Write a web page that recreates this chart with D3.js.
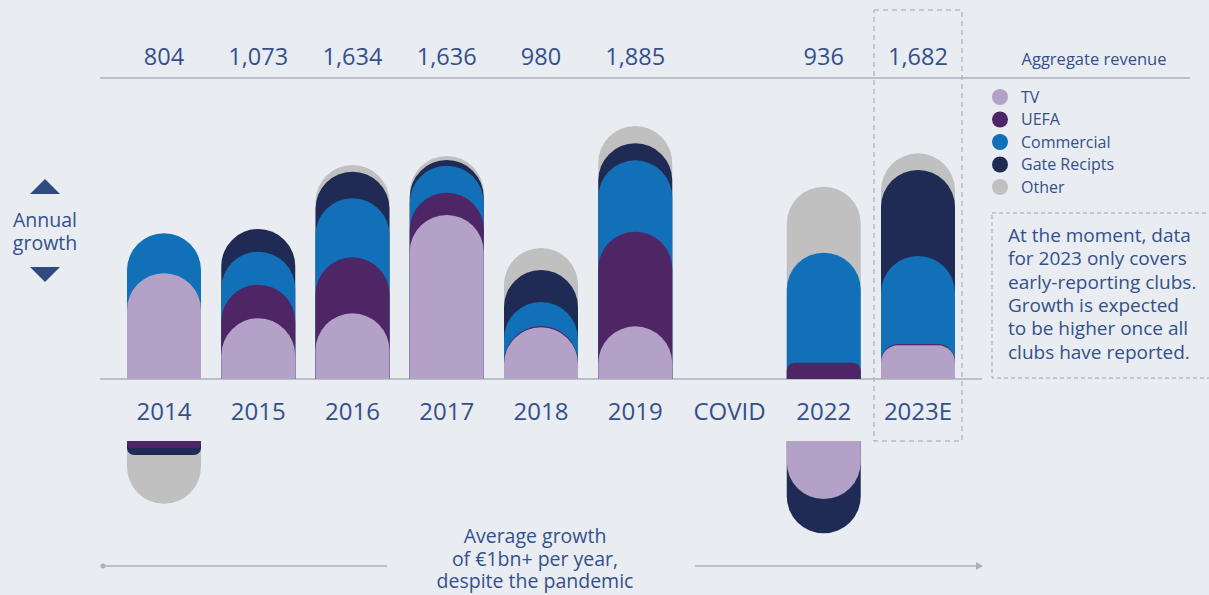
<!DOCTYPE html>
<html>
<head>
<meta charset="utf-8">
<script src="https://cdn.jsdelivr.net/npm/d3@7"></script>
<style>
  body { margin: 0; background: #e9edf1; }
  svg { display: block; font-family: "Open Sans", sans-serif; }
  .txt { fill: #34508c; }
</style>
</head>
<body>
<div id="okvir"></div>
<script>
// values, in €m
const godine = ["2014", "2015", "2016", "2017", "2018", "2019", "COVID", "2022", "2023E"]
const ukupno = [804, 1073, 1634, 1636, 980, 1885, null, 936, 1682]
const tv = [789, 453, 490, 1224, 386, 393, 0, -433, 251]
const uefa = [-52, 251, 418, 166, 10, 706, 0, 122, 10]
const commercial = [299, 246, 441, 202, 179, 533, 0, 820, 657]
const gate = [-52, 169, 198, 42, 238, 127, 0, -256, 642]
const other = [-365, 0, 50, 30, 165, 129, 0, 493, 124]

const serije = ["TV", "UEFA", "Commercial", "Gate Recipts", "Other"]
const boje = ["#b3a1c8", "#4e2565", "#1170b8", "#202b55", "#c0c0c0"]
const biljeska = ["At the moment, data", "for 2023 only covers", "early-reporting clubs.",
  "Growth is expected", "to be higher once all", "clubs have reported."]
const podnaslov = ["Average growth", "of €1bn+ per year,", "despite the pandemic"]

function crtaj() {
  const vrijednosti = [tv, uefa, commercial, gate, other]

  const dim = { sirina: 1209, visina: 595, baza: 379, bazaNeg: 441, sirinaStupca: 74 }

  const svg = d3.select("#okvir").append("svg")
      .attr("width", dim.sirina)
      .attr("height", dim.visina)

  const xSkala = d3.scalePoint()
    .domain(godine)
    .range([164, 918])

  const ySkala = d3.scaleLinear()
    .domain([0, 2000])
    .range([dim.baza, dim.baza - 268])

  const yNeg = d3.scaleLinear()
    .domain([0, 1000])
    .range([dim.bazaNeg, dim.bazaNeg + 134])

  // bar with a rounded end (up or down depending on kraj vs baza)
  function oblik(x, w, baza, kraj) {
    const h = Math.abs(baza - kraj)
    const r = h >= w / 2 ? w / 2 : h / 2
    const p = d3.path()
    const s = kraj < baza ? 1 : -1
    p.moveTo(x, baza)
    p.lineTo(x, kraj + s * r)
    p.arcTo(x, kraj, x + r, kraj, r)
    p.lineTo(x + w - r, kraj)
    p.arcTo(x + w, kraj, x + w, kraj + s * r, r)
    p.lineTo(x + w, baza)
    p.closePath()
    return p.toString()
  }

  // stack positives upward and negatives downward, keep each layer's cumulative end
  const slojevi = []
  godine.forEach((g, i) => {
    let pos = 0, neg = 0
    const stupac = []
    vrijednosti.forEach((s, k) => {
      const v = s[i]
      if (v > 0) { pos += v; stupac.push({ g, k, kraj: ySkala(pos), baza: dim.baza }) }
      else if (v < 0) { neg += -v; stupac.push({ g, k, kraj: yNeg(neg), baza: dim.bazaNeg }) }
    })
    // outer layers first so inner ones sit on top
    stupac.reverse().forEach(d => slojevi.push(d))
  })

  // dashed frame around 2023E
  svg.append("rect")
      .attr("x", xSkala("2023E") - 44)
      .attr("y", 10)
      .attr("width", 88)
      .attr("height", 431)
      .attr("fill", "none")
      .attr("stroke", "#9aa3ad")
      .attr("stroke-dasharray", "5,4")

  // lines
  svg.append("line")
      .attr("x1", 100).attr("x2", 1190)
      .attr("y1", 78).attr("y2", 78)
      .attr("stroke", "#a9b1bb").attr("stroke-width", 1.5)

  svg.append("line")
      .attr("x1", 100).attr("x2", 982)
      .attr("y1", dim.baza).attr("y2", dim.baza)
      .attr("stroke", "#a9b1bb").attr("stroke-width", 1.5)

  svg.selectAll(".sloj")
    .data(slojevi)
    .enter().append("path")
      .attr("class", "sloj")
      .attr("d", d => oblik(xSkala(d.g) - dim.sirinaStupca / 2, dim.sirinaStupca, d.baza, d.kraj))
      .attr("fill", d => boje[d.k])

  // aggregate numbers
  svg.selectAll(".ukupno")
    .data(godine.map((g, i) => ({ g, v: ukupno[i] })).filter(d => d.v != null))
    .enter().append("text")
      .attr("class", "txt")
      .attr("x", d => xSkala(d.g))
      .attr("y", 65)
      .attr("text-anchor", "middle")
      .style("font-size", "23.5px")
      .text(d => d3.format(",")(d.v))

  // year labels
  svg.selectAll(".godina")
    .data(godine)
    .enter().append("text")
      .attr("class", "txt")
      .attr("x", d => xSkala(d))
      .attr("y", 420)
      .attr("text-anchor", "middle")
      .style("font-size", "24px")
      .text(d => d)

  // legend
  svg.append("text")
      .attr("class", "txt")
      .attr("x", 1094).attr("y", 65)
      .attr("text-anchor", "middle")
      .style("font-size", "16.5px")
      .text("Aggregate revenue")

  const legenda = svg.selectAll(".leg")
    .data(serije)
    .enter().append("g")
      .attr("transform", (d, i) => `translate(1000, ${97 + i * 22.5})`)

  legenda.append("circle")
      .attr("r", 8)
      .attr("fill", (d, i) => boje[i])

  legenda.append("text")
      .attr("class", "txt")
      .attr("x", 21).attr("y", 5.5)
      .style("font-size", "16px")
      .text(d => d)

  // note box
  svg.append("rect")
      .attr("x", 992).attr("y", 213)
      .attr("width", 230).attr("height", 165)
      .attr("fill", "none")
      .attr("stroke", "#9aa3ad")
      .attr("stroke-dasharray", "4,3")

  svg.append("text")
      .attr("class", "txt")
      .style("font-size", "19px")
    .selectAll("tspan")
    .data(biljeska)
    .enter().append("tspan")
      .attr("x", 1008)
      .attr("y", (d, i) => 242 + i * 23.3)
      .text(d => d)

  // annual growth marker
  svg.append("path")
      .attr("d", "M30,194 L45,179 L60,194 Z")
      .attr("fill", "#2e4a80")
  svg.append("path")
      .attr("d", "M30,267 L60,267 L45,282 Z")
      .attr("fill", "#2e4a80")
  svg.append("text")
      .attr("class", "txt")
      .attr("text-anchor", "middle")
      .style("font-size", "19.5px")
    .selectAll("tspan")
    .data(["Annual", "growth"])
    .enter().append("tspan")
      .attr("x", 45)
      .attr("y", (d, i) => 227 + i * 23)
      .text(d => d)

  // bottom caption with arrow
  svg.append("text")
      .attr("class", "txt")
      .attr("text-anchor", "middle")
      .style("font-size", "19.5px")
    .selectAll("tspan")
    .data(podnaslov)
    .enter().append("tspan")
      .attr("x", 535)
      .attr("y", (d, i) => 543 + i * 22.5)
      .text(d => d)

  svg.append("circle")
      .attr("cx", 103).attr("cy", 566).attr("r", 2.5)
      .attr("fill", "#a9b1bb")
  svg.append("line")
      .attr("x1", 103).attr("x2", 387)
      .attr("y1", 566).attr("y2", 566)
      .attr("stroke", "#a9b1bb").attr("stroke-width", 1.5)
  svg.append("line")
      .attr("x1", 695).attr("x2", 978)
      .attr("y1", 566).attr("y2", 566)
      .attr("stroke", "#a9b1bb").attr("stroke-width", 1.5)
  svg.append("path")
      .attr("d", "M976,562 L983,566 L976,570 Z")
      .attr("fill", "#a9b1bb")
}
crtaj()
</script>
</body>
</html>
